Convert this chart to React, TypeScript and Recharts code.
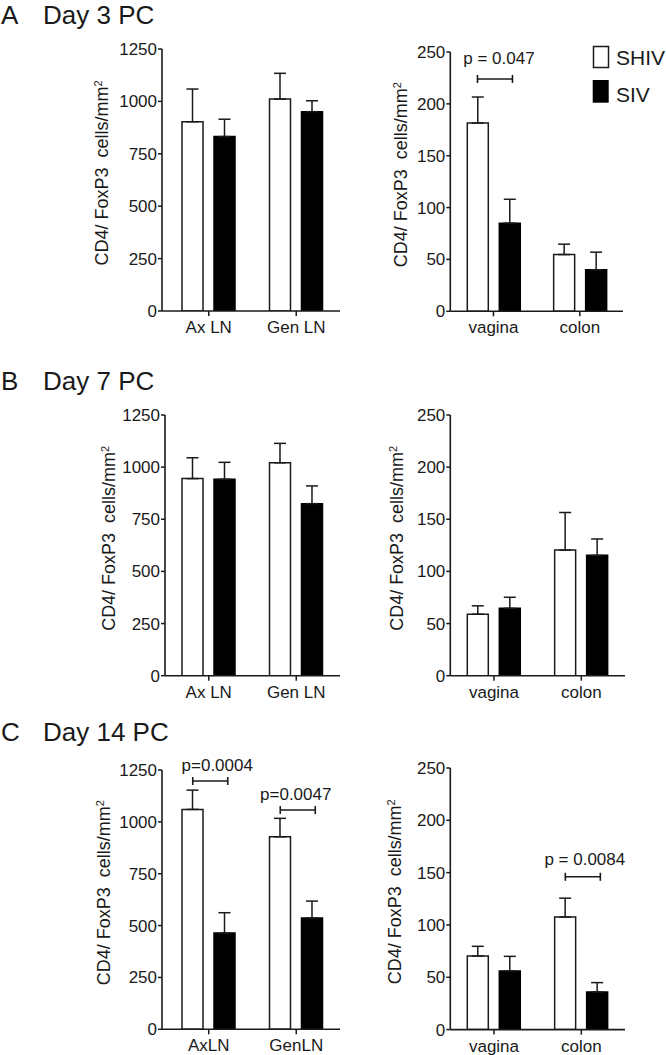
import React from "react";
import { BarChart, Bar, XAxis, YAxis, ErrorBar, ReferenceLine } from "recharts";

const SERIES = ["SHIV", "SIV"];

const LN_CATS = ["Ax LN", "Gen LN"];
const LN_CATS_D14 = ["AxLN", "GenLN"];
const MUCOSA_CATS = ["vagina", "colon"];

const LN_TICKS = [0, 250, 500, 750, 1000, 1250];
const MUCOSA_TICKS = [0, 50, 100, 150, 200, 250];

// mean and upper SEM
const D3_LN_SHIV = [903, 1011];
const D3_LN_SHIV_SEM = [156, 123];
const D3_LN_SIV = [832, 951];
const D3_LN_SIV_SEM = [83, 52];

const D3_MUC_SHIV = [181.6, 54.7];
const D3_MUC_SHIV_SEM = [25, 10];
const D3_MUC_SIV = [85, 40];
const D3_MUC_SIV_SEM = [23, 17];

const D7_LN_SHIV = [945, 1021];
const D7_LN_SHIV_SEM = [100, 93];
const D7_LN_SIV = [942, 825];
const D7_LN_SIV_SEM = [81, 85];

const D7_MUC_SHIV = [59, 120.5];
const D7_MUC_SHIV_SEM = [8, 36];
const D7_MUC_SIV = [64.6, 115.4];
const D7_MUC_SIV_SEM = [10.6, 15.7];

const D14_LN_SHIV = [1060, 928];
const D14_LN_SHIV_SEM = [93, 89];
const D14_LN_SIV = [464, 537];
const D14_LN_SIV_SEM = [98, 81];

const D14_MUC_SHIV = [70.3, 107.6];
const D14_MUC_SHIV_SEM = [9.3, 18];
const D14_MUC_SIV = [56, 35.9];
const D14_MUC_SIV_SEM = [14, 9];

// significance brackets: category, height in data units, text
const D3_MUC_P = [{ category: "vagina", y: 224, text: "p = 0.047" }];
const D14_LN_P = [
  { category: "AxLN", y: 1197, text: "p=0.0004" },
  { category: "GenLN", y: 1057, text: "p=0.0047" },
];
const D14_MUC_P = [{ category: "colon", y: 146, text: "p = 0.0084" }];

const FONT = "'Liberation Sans', Arial, Helvetica, sans-serif";
const INK = "#1a1a1a";
const BAR_SIZE = 21;
const BAR_GAP = 11;

function buildRows(cats: string[], shiv: number[], shivSem: number[], siv: number[], sivSem: number[]) {
  return cats.map((c, i) => ({
    name: c,
    shiv: shiv[i],
    siv: siv[i],
    shivErr: [0, shivSem[i]],
    sivErr: [0, sivSem[i]],
  }));
}

type Note = { category: string; y: number; text: string };

interface PanelProps {
  cats: string[];
  shiv: number[];
  shivSem: number[];
  siv: number[];
  sivSem: number[];
  ticks: number[];
  notes?: Note[];
  chartLeft: number;
  plotLeft: number;
  plotRight: number;
  plotTop: number;
  plotBottom: number;
  padLeft: number;
  labelX: number;
  noteShift?: number[];
  noteGap?: number[];
}

function Panel(p: PanelProps) {
  const chartTop = p.plotTop - 40;
  const yw = p.plotLeft - p.chartLeft;
  const width = p.plotRight - p.chartLeft + 12;
  const xAxisH = 45;
  const height = p.plotBottom - chartTop + xAxisH;
  const data = buildRows(p.cats, p.shiv, p.shivSem, p.siv, p.sivSem);
  const top = p.ticks[p.ticks.length - 1];
  const lx = p.labelX - p.chartLeft;
  const ly = (p.plotTop + p.plotBottom) / 2 - chartTop - 7;
  const half = (BAR_SIZE + BAR_GAP) / 2;

  return (
    <div style={{ position: "absolute", left: p.chartLeft, top: chartTop }}>
      <BarChart
        width={width}
        height={height}
        data={data}
        margin={{ top: p.plotTop - chartTop, right: 12, left: 0, bottom: 0 }}
        barGap={BAR_GAP}
      >
        <XAxis
          dataKey="name"
          height={xAxisH}
          padding={{ left: p.padLeft, right: 0 }}
          axisLine={{ stroke: INK, strokeWidth: 1.6 }}
          tickLine={{ stroke: INK, strokeWidth: 1.5 }}
          tickSize={5}
          tickMargin={5}
          tick={{ fontSize: 17, fill: INK, fontFamily: FONT }}
          interval={0}
        />
        <YAxis
          width={yw}
          domain={[0, top]}
          ticks={p.ticks}
          interval={0}
          allowDataOverflow
          axisLine={{ stroke: INK, strokeWidth: 1.6 }}
          tickLine={{ stroke: INK, strokeWidth: 1.5 }}
          tickSize={4}
          tickMargin={1}
          tick={{ fontSize: 17, fill: INK, fontFamily: FONT }}
          label={() => (
            <text
              x={lx}
              y={ly}
              transform={`rotate(-90, ${lx}, ${ly})`}
              textAnchor="middle"
              fontSize={18}
              fontFamily={FONT}
              fill={INK}
              style={{ whiteSpace: "pre" }}
            >
              {"CD4/ FoxP3  cells/mm"}
              <tspan dy="-0.55em" fontSize={11}>
                2
              </tspan>
            </text>
          )}
        />
        <Bar
          dataKey="shiv"
          name={SERIES[0]}
          fill="#ffffff"
          stroke={INK}
          strokeWidth={1.5}
          barSize={BAR_SIZE}
          isAnimationActive={false}
        >
          <ErrorBar dataKey="shivErr" direction="y" width={6} stroke={INK} strokeWidth={1.5} isAnimationActive={false} />
        </Bar>
        <Bar
          dataKey="siv"
          name={SERIES[1]}
          fill="#000000"
          stroke="#000000"
          strokeWidth={1.5}
          barSize={BAR_SIZE}
          isAnimationActive={false}
        >
          <ErrorBar dataKey="sivErr" direction="y" width={6} stroke={INK} strokeWidth={1.5} isAnimationActive={false} />
        </Bar>
        {(p.notes || []).map((n, i) => (
          <ReferenceLine
            key={n.text}
            segment={[
              { x: n.category, y: n.y },
              { x: n.category, y: n.y },
            ]}
            ifOverflow="visible"
            shape={(sp: any) => {
              const cx = sp.x1;
              const cy = sp.y1;
              const a = cx - half;
              const b = cx + half + 3;
              const shift = p.noteShift ? p.noteShift[i] : 4;
              const gap = p.noteGap ? p.noteGap[i] : 11;
              return (
                <g>
                  <line x1={a} y1={cy} x2={b} y2={cy} stroke={INK} strokeWidth={1.6} />
                  <line x1={a} y1={cy - 4} x2={a} y2={cy + 4} stroke={INK} strokeWidth={1.6} />
                  <line x1={b} y1={cy - 4} x2={b} y2={cy + 4} stroke={INK} strokeWidth={1.6} />
                  <text
                    x={(a + b) / 2 + shift}
                    y={cy - gap}
                    textAnchor="middle"
                    fontSize={17}
                    fontFamily={FONT}
                    fill={INK}
                  >
                    {n.text}
                  </text>
                </g>
              );
            }}
          />
        ))}
      </BarChart>
    </div>
  );
}

export default function App() {
  return (
    <div
      style={{
        position: "absolute",
        left: 0,
        top: 0,
        width: 666,
        height: 1055,
        background: "#fff",
        overflow: "hidden",
      }}
    >
      <Panel
        cats={LN_CATS}
        shiv={D3_LN_SHIV}
        shivSem={D3_LN_SHIV_SEM}
        siv={D3_LN_SIV}
        sivSem={D3_LN_SIV_SEM}
        ticks={LN_TICKS}
        chartLeft={0}
        plotLeft={162}
        plotRight={340}
        plotTop={49}
        plotBottom={311}
        padLeft={3}
        labelX={108}
      />
      <Panel
        cats={MUCOSA_CATS}
        shiv={D3_MUC_SHIV}
        shivSem={D3_MUC_SHIV_SEM}
        siv={D3_MUC_SIV}
        sivSem={D3_MUC_SIV_SEM}
        ticks={MUCOSA_TICKS}
        notes={D3_MUC_P}
        noteShift={[4]}
        noteGap={[15]}
        chartLeft={340}
        plotLeft={450.3}
        plotRight={623}
        plotTop={51.7}
        plotBottom={311}
        padLeft={0}
        labelX={407}
      />
      <Panel
        cats={LN_CATS}
        shiv={D7_LN_SHIV}
        shivSem={D7_LN_SHIV_SEM}
        siv={D7_LN_SIV}
        sivSem={D7_LN_SIV_SEM}
        ticks={LN_TICKS}
        chartLeft={0}
        plotLeft={165}
        plotRight={340}
        plotTop={415}
        plotBottom={675.7}
        padLeft={0}
        labelX={115}
      />
      <Panel
        cats={MUCOSA_CATS}
        shiv={D7_MUC_SHIV}
        shivSem={D7_MUC_SHIV_SEM}
        siv={D7_MUC_SIV}
        sivSem={D7_MUC_SIV_SEM}
        ticks={MUCOSA_TICKS}
        chartLeft={340}
        plotLeft={450.3}
        plotRight={625}
        plotTop={415}
        plotBottom={675.7}
        padLeft={0}
        labelX={403}
      />
      <Panel
        cats={LN_CATS_D14}
        shiv={D14_LN_SHIV}
        shivSem={D14_LN_SHIV_SEM}
        siv={D14_LN_SIV}
        sivSem={D14_LN_SIV_SEM}
        ticks={LN_TICKS}
        notes={D14_LN_P}
        noteShift={[7, -2]}
        noteGap={[10, 10]}
        chartLeft={0}
        plotLeft={162}
        plotRight={340}
        plotTop={770}
        plotBottom={1029.3}
        padLeft={3}
        labelX={110}
      />
      <Panel
        cats={MUCOSA_CATS}
        shiv={D14_MUC_SHIV}
        shivSem={D14_MUC_SHIV_SEM}
        siv={D14_MUC_SIV}
        sivSem={D14_MUC_SIV_SEM}
        ticks={MUCOSA_TICKS}
        notes={D14_MUC_P}
        noteShift={[2]}
        noteGap={[12]}
        chartLeft={340}
        plotLeft={450.3}
        plotRight={625}
        plotTop={767.7}
        plotBottom={1029.3}
        padLeft={0}
        labelX={401}
      />

      {/* panel titles and legend */}
      <svg
        width={666}
        height={1055}
        style={{ position: "absolute", left: 0, top: 0, pointerEvents: "none" }}
      >
        <g fontFamily={FONT} fill={INK} fontSize={26}>
          <text x={1} y={24}>A</text>
          <text x={43} y={24}>Day 3 PC</text>
          <text x={1} y={390}>B</text>
          <text x={43} y={390}>Day 7 PC</text>
          <text x={1} y={741}>C</text>
          <text x={43} y={741}>Day 14 PC</text>
        </g>
        <rect x={593.5} y={46.5} width={15} height={21} fill="#fff" stroke={INK} strokeWidth={1.5} />
        <rect x={592.7} y={80} width={16} height={22.7} fill="#000" />
        <g fontFamily={FONT} fill={INK} fontSize={21}>
          <text x={616} y={64.5}>{SERIES[0]}</text>
          <text x={616} y={101.5}>{SERIES[1]}</text>
        </g>
      </svg>
    </div>
  );
}
